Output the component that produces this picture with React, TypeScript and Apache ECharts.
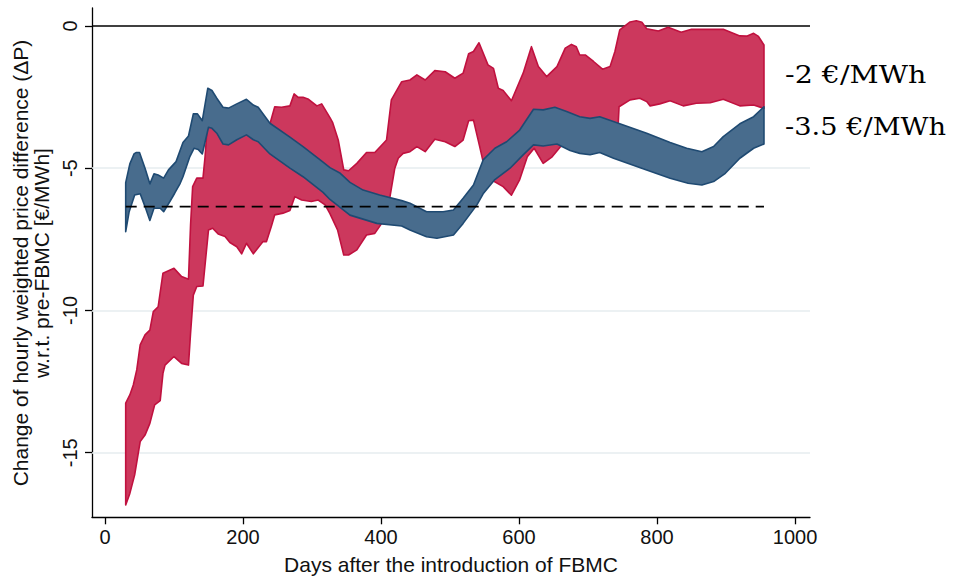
import React, { useEffect, useRef } from "react";
import * as echarts from "echarts";

// ---- data (days after FBMC, change of price difference in €/MWh) ----
const redLower: [number, number][] = [
  [30, -16.84], [36, -16.43], [43, -15.78], [51, -14.61], [58, -14.38], [65, -13.97], [72, -13.32],
  [80, -13.17], [84, -12.21], [87, -11.92], [100, -11.62], [111, -11.86], [121, -11.92], [124, -10.8],
  [128, -9.46], [133, -9.16], [142, -9.14], [150, -7.17], [156, -7.11], [164, -7.31], [174, -7.4],
  [181, -7.61], [191, -7.76], [198, -8.01], [205, -7.64], [215, -8.01], [229, -7.58], [234, -7.58],
  [241, -7.05], [246, -6.64], [258, -6.58], [268, -6.49], [275, -6.0], [285, -6.12], [299, -6.17],
  [309, -6.12], [319, -6.29], [326, -6.6], [337, -7.17], [346, -8.05], [353, -8.05], [365, -7.87],
  [379, -7.35], [391, -7.29], [401, -6.94], [408, -6.6], [413, -6.0], [420, -5.0], [425, -4.65],
  [432, -4.48], [442, -4.42], [452, -4.24], [464, -4.42], [478, -3.98], [493, -4.07], [507, -4.24],
  [519, -4.01], [527, -3.33], [534, -3.31], [543, -4.24], [553, -5.3], [563, -5.45], [577, -5.65],
  [589, -5.95], [601, -5.4], [612, -4.6], [622, -4.3], [635, -4.83], [648, -4.6], [660, -4.25],
  [680, -3.9], [720, -3.9], [743, -3.8], [745, -2.84], [761, -2.6], [775, -2.54], [785, -2.66],
  [790, -2.81], [804, -2.74], [819, -2.63], [838, -2.81], [857, -2.72], [877, -2.7], [896, -2.58],
  [920, -2.81], [940, -2.78], [955, -2.9],
];
const redUpper: [number, number][] = [
  [30, -13.26], [36, -12.97], [41, -12.62], [46, -12.09], [51, -11.21], [58, -10.86], [65, -10.69],
  [70, -10.04], [77, -9.87], [84, -8.69], [100, -8.52], [111, -8.81], [121, -8.9], [124, -7.0],
  [127, -5.65], [133, -5.35], [142, -5.35], [145, -4.6], [148, -3.6], [170, -3.4], [200, -3.2],
  [222, -3.45], [239, -3.45], [246, -2.84], [256, -2.86], [268, -2.81], [274, -2.39], [280, -2.51],
  [287, -2.51], [295, -2.58], [307, -2.81], [314, -2.74], [326, -3.22], [330, -3.4], [338, -4.01],
  [346, -5.06], [353, -5.09], [365, -4.83], [379, -4.45], [391, -4.45], [408, -4.01], [415, -2.6],
  [430, -1.96], [442, -1.9], [452, -1.72], [464, -1.9], [478, -1.57], [493, -1.61], [507, -1.84],
  [519, -1.66], [527, -0.98], [534, -0.9], [542, -0.59], [555, -1.37], [563, -1.49], [570, -2.19],
  [577, -2.27], [589, -2.63], [606, -1.66], [618, -0.73], [628, -1.43], [640, -1.78], [655, -1.43],
  [667, -0.78], [676, -0.65], [683, -0.73], [688, -1.02], [696, -1.02], [708, -1.25], [721, -1.52],
  [732, -1.43], [739, -0.9], [746, -0.14], [761, 0.14], [770, 0.18], [778, 0.13], [785, -0.1],
  [802, -0.18], [816, -0.05], [835, -0.22], [850, -0.12], [877, -0.12], [896, -0.12], [920, -0.35],
  [930, -0.36], [940, -0.26], [947, -0.37], [955, -0.67],
];
const blueLower: [number, number][] = [
  [30, -7.23], [35, -6.53], [43, -5.94], [51, -5.9], [58, -6.35], [65, -6.84], [71, -6.41],
  [80, -6.41], [85, -6.53], [94, -6.17], [101, -5.88], [109, -5.53], [113, -5.3], [123, -4.59],
  [129, -4.3], [135, -4.34], [141, -4.5], [150, -3.56], [155, -3.6], [162, -3.77], [171, -4.15],
  [179, -4.18], [191, -4.0], [205, -3.83], [215, -4.0], [222, -4.07], [239, -4.5], [268, -5.0],
  [287, -5.3], [316, -5.85], [326, -6.1], [355, -6.65], [394, -6.94], [430, -7.03], [442, -7.17],
  [466, -7.41], [481, -7.46], [505, -7.35], [519, -6.94], [539, -6.29], [548, -5.9], [565, -5.4],
  [587, -5.0], [606, -4.53], [621, -4.18], [635, -4.22], [655, -4.15], [674, -4.38], [688, -4.48],
  [703, -4.53], [717, -4.45], [737, -4.65], [785, -5.06], [819, -5.35], [845, -5.53], [865, -5.59],
  [882, -5.47], [899, -5.18], [920, -4.65], [940, -4.3], [955, -4.15],
];
const blueUpper: [number, number][] = [
  [30, -5.51], [36, -4.85], [42, -4.5], [45, -4.45], [50, -4.45], [58, -5.0], [65, -5.55],
  [71, -5.2], [77, -5.24], [85, -5.35], [92, -5.06], [103, -4.77], [113, -4.1], [121, -3.87],
  [128, -3.09], [134, -3.09], [141, -3.33], [149, -2.19], [155, -2.27], [162, -2.54], [171, -2.86],
  [179, -2.89], [191, -2.74], [205, -2.58], [215, -2.78], [222, -2.86], [239, -3.42], [268, -3.91],
  [287, -4.24], [316, -4.79], [326, -4.98], [341, -5.18], [355, -5.5], [374, -5.77], [398, -5.94],
  [430, -6.14], [442, -6.23], [466, -6.53], [490, -6.53], [505, -6.47], [519, -6.06], [534, -5.59],
  [548, -4.71], [565, -4.3], [582, -4.07], [601, -3.66], [621, -2.93], [635, -2.95], [652, -2.86],
  [669, -3.01], [688, -3.19], [703, -3.25], [717, -3.19], [746, -3.44], [785, -3.77], [819, -4.1],
  [843, -4.3], [865, -4.42], [882, -4.24], [896, -3.89], [920, -3.44], [940, -3.19], [955, -2.84],
];
const dashedRef: [number, number][] = [[30, -6.35], [955, -6.35]];
const xTicks = [0, 200, 400, 600, 800, 1000];
const yTicks = [0, -5, -10, -15];
const gridValues = [-5, -10, -15];
const bandLabels = ["-2 €/MWh", "-3.5 €/MWh"];
const yTitle = ["Change of hourly weighted price difference (ΔP)", "w.r.t. pre-FBMC [€/MWh]"];
const xTitle = "Days after the introduction of FBMC";

const SANS = "'Liberation Sans', Arial, sans-serif";
const SERIF = "'DejaVu Serif', 'Liberation Serif', serif";

function bandSeries(lower: [number, number][], upper: [number, number][], fill: string, stroke: string, z: number) {
  return {
    type: "custom",
    z,
    silent: true,
    data: [[lower[0][0], lower[0][1]]],
    renderItem: (_p: any, api: any) => {
      const pts = [
        ...lower.map((d) => api.coord(d)),
        ...upper.slice().reverse().map((d) => api.coord(d)),
      ];
      return {
        type: "polygon",
        shape: { points: pts },
        style: { fill, stroke, lineWidth: 1.6, lineJoin: "round" },
      };
    },
  };
}

export default function App() {
  const ref = useRef<HTMLDivElement>(null);
  useEffect(() => {
    if (!ref.current) return;
    const chart = echarts.init(ref.current, null, { renderer: "svg" });
    chart.setOption({
      animation: false,
      backgroundColor: "#ffffff",
      grid: { left: 92, right: 144, top: 8, bottom: 58.7 },
      xAxis: {
        type: "value",
        min: -18.84,
        max: 1021.7,
        splitLine: { show: false },
        axisLine: { show: true, onZero: false, lineStyle: { color: "#000", width: 1.3 } },
        axisTick: { show: true, customValues: xTicks, length: 7, lineStyle: { color: "#000", width: 1.3 } },
        axisLabel: {
          customValues: xTicks,
          color: "#111",
          fontSize: 20,
          fontFamily: SANS,
          margin: 10,
          formatter: (v: number) => String(v),
        },
      },
      yAxis: {
        type: "value",
        min: -17.27,
        max: 0.63,
        splitLine: { show: false },
        axisLine: { show: true, onZero: false, lineStyle: { color: "#000", width: 1.3 } },
        axisTick: { show: true, customValues: yTicks, length: 7, lineStyle: { color: "#000", width: 1.3 } },
        axisLabel: {
          customValues: yTicks,
          rotate: 90,
          color: "#111",
          fontSize: 20,
          fontFamily: SANS,
          margin: 12,
          formatter: (v: number) => String(v),
        },
      },
      series: [
        {
          type: "line",
          z: 1,
          silent: true,
          data: [],
          markLine: {
            z: 1,
            silent: true,
            symbol: "none",
            label: { show: false },
            emphasis: { disabled: true },
            data: [
              { yAxis: 0, lineStyle: { color: "#000", width: 1.6, type: "solid" } },
              ...gridValues.map((v) => ({ yAxis: v, lineStyle: { color: "#e6ecef", width: 1.6, type: "solid" } })),
            ],
          },
        },
        bandSeries(redLower, redUpper, "#cc385d", "#c0113f", 2),
        bandSeries(blueLower, blueUpper, "#486c8d", "#1f4a72", 3),
        {
          type: "line",
          z: 4,
          silent: true,
          data: dashedRef,
          symbol: "none",
          lineStyle: { color: "#000", width: 1.7, type: [11, 7] },
        },
      ],
      graphic: [
        {
          type: "text",
          x: 31,
          y: 263,
          rotation: Math.PI / 2,
          style: {
            text: yTitle.join("\n"),
            font: `21px ${SANS}`,
            lineHeight: 21,
            fill: "#111",
            align: "center",
            verticalAlign: "middle",
          },
        },
        {
          type: "text",
          x: 451,
          y: 564,
          style: { text: xTitle, font: `21px ${SANS}`, fill: "#111", align: "center", verticalAlign: "middle" },
        },
        {
          type: "text",
          x: 785,
          y: 74,
          scaleX: 1.14,
          style: { text: bandLabels[0], font: `25px ${SERIF}`, fill: "#000", align: "left", verticalAlign: "middle" },
        },
        {
          type: "text",
          x: 785,
          y: 126,
          scaleX: 1.09,
          style: { text: bandLabels[1], font: `25px ${SERIF}`, fill: "#000", align: "left", verticalAlign: "middle" },
        },
      ],
    });
    return () => chart.dispose();
  }, []);
  return <div ref={ref} style={{ position: "fixed", left: 0, top: 0, width: 954, height: 576 }} />;
}
